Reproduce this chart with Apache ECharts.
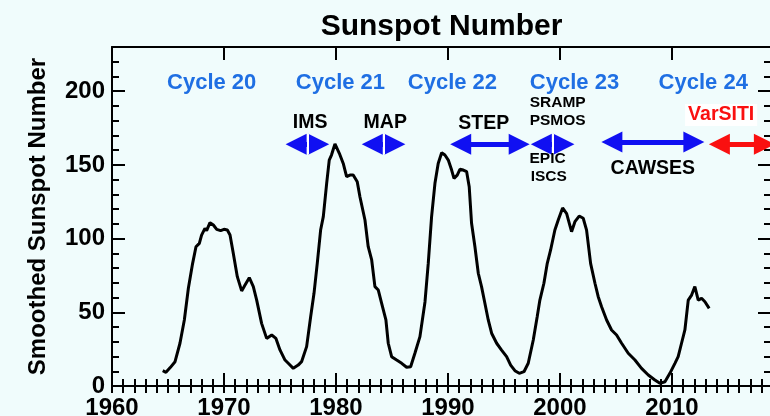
<!DOCTYPE html>
<html>
<head>
<meta charset="utf-8">
<title>Sunspot Number</title>
<script src="https://cdn.jsdelivr.net/npm/echarts@6/dist/echarts.min.js"></script>
<style>
  html, body { margin: 0; padding: 0; background: #f0fcfc; }
  #chart { width: 770px; height: 416px; }
</style>
</head>
<body>
<div id="chart"></div>
<script>
// smoothed sunspot number (decimal year / value)
const years = [
  1964.53, 1964.82, 1965.2, 1965.63, 1966.07, 1966.46, 1966.82, 1967.2, 1967.5, 1967.8,
  1968.0, 1968.3, 1968.45, 1968.75, 1969.05, 1969.35, 1969.7, 1970.0, 1970.3, 1970.54,
  1970.83, 1971.19, 1971.58, 1971.88, 1972.26, 1972.62, 1972.92, 1973.36, 1973.81, 1974.26,
  1974.64, 1975.0, 1975.45, 1975.74, 1976.19, 1976.63, 1976.93, 1977.38, 1977.74, 1978.04,
  1978.33, 1978.63, 1978.87, 1979.17, 1979.4, 1979.6, 1979.91, 1980.3, 1980.65, 1980.95,
  1981.25, 1981.54, 1981.9, 1982.14, 1982.59, 1982.88, 1983.19, 1983.48, 1983.78, 1984.08,
  1984.46, 1984.67, 1984.97, 1985.42, 1985.87, 1986.31, 1986.67, 1987.05, 1987.5, 1987.95,
  1988.24, 1988.54, 1988.84, 1989.13, 1989.44, 1989.73, 1990.03, 1990.33, 1990.54, 1990.83,
  1991.07, 1991.37, 1991.67, 1991.9, 1992.11, 1992.41, 1992.71, 1993.0, 1993.3, 1993.6,
  1993.9, 1994.35, 1994.79, 1995.24, 1995.6, 1995.98, 1996.37, 1996.79, 1997.17, 1997.62,
  1997.97, 1998.21, 1998.57, 1998.87, 1999.17, 1999.55, 1999.85, 2000.24, 2000.6, 2001.04,
  2001.34, 2001.72, 2002.08, 2002.38, 2002.74, 2003.13, 2003.42, 2003.72, 2004.17, 2004.61,
  2005.06, 2005.51, 2006.1, 2006.7, 2007.29, 2007.89, 2008.48, 2008.93, 2009.38, 2009.82,
  2010.27, 2010.56, 2010.86, 2011.16, 2011.46, 2011.76, 2012.05, 2012.35, 2012.65, 2012.95, 2013.33
]
const ssn = [
  10.4, 9.3, 12.5, 16.5, 29, 44.8, 66.3, 83.2, 94.5, 96.8,
  102.4, 107, 105.4, 110.8, 109.2, 106.3, 105.4, 106.3, 105.8, 102.4,
  90, 74.2, 64.5, 68.5, 73.5, 67.4, 58.3, 42.5, 32.3, 34.6,
  32.3, 24.5, 17.6, 15.4, 12, 14.2, 16.5, 26.7, 47, 62.9,
  83.2, 105.8, 114.9, 137.5, 153.3, 156.7, 164.2, 157.9, 151, 142,
  143.1, 143.1, 138.6, 128.4, 112.6, 94.5, 85.5, 67.4, 65.1, 56.1,
  44.8, 29, 19.9, 17.6, 15.4, 12.7, 13.1, 22.2, 33.5, 57,
  83, 114.9, 137.5, 151, 158.3, 156.7, 153.3, 146.5, 140.9, 143.1,
  147, 146.5, 145.4, 135.2, 110.4, 94.5, 76.5, 67.4, 56.1, 44.8,
  35.8, 29, 24.4, 19.9, 14.2, 10.4, 8.6, 9.7, 15.4, 31.2,
  47, 58.3, 69.7, 83.2, 92.3, 105.8, 112.6, 120.8, 117, 104.7,
  111.5, 115.3, 113.8, 105.8, 83.2, 69.7, 60.6, 53.8, 44.8, 38,
  34.6, 29, 22.2, 17.6, 12, 7.5, 4.1, 1.8, 2.9, 8.6,
  15.4, 19.9, 29, 38, 58.3, 61.7, 67.4, 58.3, 59.5, 57.2, 52.7
]

const xMin = 1960, xMax = 2018.85
const yMin = 0, yMax = 230

// solar cycle labels
const cycleNames = ['Cycle 20', 'Cycle 21', 'Cycle 22', 'Cycle 23', 'Cycle 24']
const cycleX = [1968.9, 1980.4, 1990.4, 2001.3, 2012.8]
const cycleY = 205.6

// programme arrows, tip to tip (years)
const progStart = [1975.5, 1982.3, 1990.2, 1997.4, 2003.7, 2013.3]
const progEnd = [1979.4, 1986.2, 1997.3, 2001.3, 2012.9, 2019.2]
const progY = [164, 164, 164, 164, 165.5, 164]
const progSplit = [true, true, false, true, false, false]
const progRed = [false, false, false, false, false, true]

// programme names
const progNames = ['IMS', 'MAP', 'STEP', 'SRAMP', 'PSMOS', 'EPIC', 'ISCS', 'CAWSES', 'VarSITI']
const progNameX = [1977.7, 1984.4, 1993.2, 1999.8, 1999.8, 1998.9, 1999.0, 2008.3, 2014.4]
const progNameY = [178.4, 178.4, 177.7, 192, 179.8, 154.3, 141.8, 147.5, 183.9]
const progNameSmall = [false, false, false, true, true, true, true, false, false]

const font = 'Liberation Sans, Arial, Helvetica, sans-serif'
const blue = '#1010f2'
const red = '#fa1010'
const headYears = 0.94 // half the arrow head length

const arrowLines = []
progStart.forEach((s, i) => {
  const c = progRed[i] ? red : blue
  arrowLines.push([
    { coord: [s + headYears, progY[i]], lineStyle: { color: c, width: 5, type: 'solid' } },
    { coord: [progEnd[i] - headYears, progY[i]] }
  ])
})
progStart.forEach((s, i) => {
  if (!progSplit[i]) return
  const mid = (s + progEnd[i]) / 2
  arrowLines.push([
    { coord: [mid, progY[i] + 7], symbol: 'none', lineStyle: { color: '#ffffff', width: 2, type: 'solid' } },
    { coord: [mid, progY[i] - 7], symbol: 'none' }
  ])
})

const textPoints = []
cycleNames.forEach((n, i) => {
  textPoints.push({
    name: n, coord: [cycleX[i], cycleY],
    label: { show: true, position: 'inside', formatter: '{b}', color: '#1f6fe3', fontSize: 22, fontWeight: 'bold', fontFamily: font }
  })
})
progNames.forEach((n, i) => {
  const isRed = n === 'VarSITI'
  textPoints.push({
    name: n, coord: [progNameX[i], progNameY[i]],
    label: {
      show: true, position: 'inside', formatter: '{b}',
      color: isRed ? red : '#000', fontSize: progNameSmall[i] ? 15.5 : 19.5,
      fontWeight: 'bold', fontFamily: font,
      backgroundColor: isRed ? '#ffffff' : 'transparent', padding: isRed ? [1, 3] : 0
    }
  })
})

const tickStyle = { color: '#000', width: 2 }
const axisLineStyle = { show: true, onZero: false, lineStyle: { color: '#000', width: 2 } }
const noLabel = { show: false }

function xAx(pos, interval, len, extra) {
  return Object.assign({
    type: 'value', position: pos, min: xMin, max: xMax, interval: interval,
    axisLine: interval === 10 ? axisLineStyle : { show: false },
    axisTick: { show: true, inside: true, length: len, lineStyle: tickStyle },
    axisLabel: noLabel, splitLine: { show: false }
  }, extra || {})
}
function yAx(pos, interval, len, extra) {
  return Object.assign({
    type: 'value', position: pos, min: yMin, max: yMax, interval: interval,
    axisLine: interval === 50 ? axisLineStyle : { show: false },
    axisTick: { show: true, inside: true, length: len, lineStyle: tickStyle },
    axisLabel: noLabel, splitLine: { show: false }
  }, extra || {})
}

const chart = echarts.init(document.getElementById('chart'), null, { renderer: 'canvas' })
chart.setOption({
  animation: false,
  backgroundColor: '#f0fcfc',
  grid: { left: 112, top: 47, width: 659, height: 339, containLabel: false, outerBoundsMode: 'none' },
  xAxis: [
    xAx('bottom', 10, 13, {
      axisLabel: {
        show: true, margin: 10, color: '#000', fontSize: 24, fontWeight: 'bold', fontFamily: font,
        showMaxLabel: false, formatter: v => String(v)
      }
    }),
    xAx('bottom', 1, 7),
    xAx('top', 10, 13, {
      name: 'Sunspot Number', nameLocation: 'middle', nameGap: 5,
      nameTextStyle: { color: '#000', fontSize: 30, fontWeight: 'bold', fontFamily: font }
    }),
    xAx('top', 1, 7)
  ],
  yAxis: [
    yAx('left', 50, 13, {
      axisLabel: {
        show: true, margin: 7, color: '#000', fontSize: 24, fontWeight: 'bold', fontFamily: font,
        showMaxLabel: false, formatter: v => String(v)
      },
      name: 'Smoothed Sunspot Number', nameLocation: 'middle', nameGap: 62,
      nameTextStyle: { color: '#000', fontSize: 24, fontWeight: 'bold', fontFamily: font }
    }),
    yAx('left', 10, 7),
    yAx('right', 50, 13),
    yAx('right', 10, 7)
  ],
  series: [{
    type: 'line',
    xAxisIndex: 0, yAxisIndex: 0,
    data: years.map((y, i) => [y, ssn[i]]),
    showSymbol: false, symbol: 'none',
    lineStyle: { color: '#000', width: 3 },
    silent: true,
    markLine: {
      silent: true, animation: false,
      symbol: ['triangle', 'triangle'], symbolSize: 21,
      label: { show: false }, emphasis: { disabled: true },
      data: arrowLines
    },
    markPoint: {
      silent: true, animation: false,
      symbol: 'rect', symbolSize: 1, itemStyle: { color: 'rgba(0,0,0,0)' },
      emphasis: { disabled: true },
      data: textPoints
    }
  }]
})
</script>
</body>
</html>
